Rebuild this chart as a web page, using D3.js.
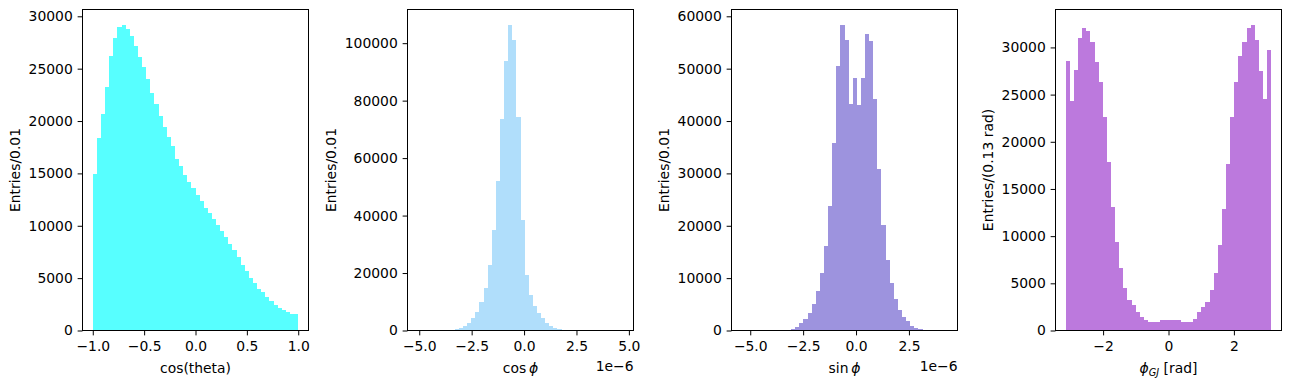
<!DOCTYPE html>
<html>
<head>
<meta charset="utf-8">
<script src="https://cdn.jsdelivr.net/npm/d3@7"></script>
<style>
  html, body { margin: 0; padding: 0; background: #fff; }
  svg { display: block; }
  text { font-family: "DejaVu Sans", sans-serif; fill: #000; }
</style>
</head>
<body>
<svg id="chart" width="1289" height="389"></svg>
<script>
// ---------------- DATA ----------------
// Panel 1: cos(theta), 50 bins over [-1, 1]
const cosThetaRange = [-1, 1];
const cosThetaCounts = [
  14950, 18380, 20700, 23280, 26200, 27950, 29000, 29190, 28810, 28140,
  27190, 26140, 25190, 24040, 22710, 21660, 20510, 19460, 18510, 17650,
  16410, 15710, 14880, 14210, 13640, 12970, 12400, 11730, 11260, 10680,
  10110, 9540, 8970, 8300, 7730, 7060, 6300, 5720, 5060, 4580,
  4010, 3630, 3240, 2860, 2480, 2190, 1910, 1720, 1530, 1530
];
const cosThetaYTicks = [0, 5000, 10000, 15000, 20000, 25000, 30000];
const cosThetaXTicks = [-1.0, -0.5, 0.0, 0.5, 1.0];

// Panel 2: cos phi (units of 1e-6), 50 bins
const cosPhiRange = [-5.07, 4.73];
const cosPhiCounts = [
  3, 0, 0, 1, 2, 6, 20, 80, 230, 580,
  1040, 1740, 2780, 4520, 6600, 10080, 14950, 22950, 35120, 52150,
  73600, 93880, 106400, 101180, 74400, 38600, 19470, 12520, 8690, 6260,
  4520, 2780, 1740, 1040, 460, 180, 70, 25, 10, 4,
  2, 1, 0, 0, 0, 0, 0, 0, 0, 1
];
const cosPhiYTicks = [0, 20000, 40000, 60000, 80000, 100000];
const cosPhiXTicks = [-5.0, -2.5, 0.0, 2.5, 5.0];

// Panel 3: sin phi (units of 1e-6), 50 bins
const sinPhiRange = [-5.40, 4.31];
const sinPhiCounts = [
  1, 0, 0, 0, 1, 3, 6, 12, 25, 50,
  95, 190, 380, 760, 1340, 2290, 3430, 5150, 7630, 10940,
  16220, 23850, 35870, 50560, 58380, 55520, 43310, 48270, 43060, 48270,
  56670, 55330, 44270, 30910, 20220, 13550, 9160, 6110, 4010, 2670,
  1720, 950, 570, 380, 190, 90, 40, 15, 5, 2
];
const sinPhiYTicks = [0, 10000, 20000, 30000, 40000, 50000, 60000];
const sinPhiXTicks = [-5.0, -2.5, 0.0, 2.5];

// Panel 4: phi_GJ [rad], 50 bins over [-pi, pi]
const phiGJRange = [-Math.PI, Math.PI];
const phiGJCounts = [
  28580, 24350, 27630, 31020, 32080, 31730, 30600, 28480, 26360, 22660,
  17890, 13130, 9420, 6670, 4550, 3280, 2650, 2010, 1380, 1060,
  850, 950, 950, 1160, 1160, 1160, 1160, 1060, 850, 850,
  950, 1270, 1910, 2540, 3070, 4340, 6140, 9100, 12920, 17680,
  22660, 26360, 29110, 30600, 32080, 32400, 30810, 27530, 24560, 29750
];
const phiGJYTicks = [0, 5000, 10000, 15000, 20000, 25000, 30000];
const phiGJXTicks = [-2, 0, 2];

// ---------------- LAYOUT ----------------
const svg = d3.select("#chart");
const FS = 13.9;
const axLefts = [82.5, 407.5, 731.5, 1055.5];
const axTop = 9.5, axW = 226, axH = 321;
const tickLen = 4.86, tickPad = 4.86;
const digitW = 0.6362 * FS;

const panels = [
  { range: cosThetaRange, counts: cosThetaCounts, yTicks: cosThetaYTicks, xTicks: cosThetaXTicks,
    xFmt: d3.format(".1f"), color: "#57ffff", ylabel: "Entries/0.01", xlabel: [{t: "cos(theta)"}], offset: null, yDigits: 5 },
  { range: cosPhiRange, counts: cosPhiCounts, yTicks: cosPhiYTicks, xTicks: cosPhiXTicks,
    xFmt: d3.format(".1f"), color: "#b0defb", ylabel: "Entries/0.01",
    xlabel: [{t: "cos\u2009"}, {t: "\u03d5", it: true}], offset: "1e\u22126", yDigits: 6 },
  { range: sinPhiRange, counts: sinPhiCounts, yTicks: sinPhiYTicks, xTicks: sinPhiXTicks,
    xFmt: d3.format(".1f"), color: "#9d93de", ylabel: "Entries/0.01",
    xlabel: [{t: "sin\u2009"}, {t: "\u03d5", it: true}], offset: "1e\u22126", yDigits: 5 },
  { range: phiGJRange, counts: phiGJCounts, yTicks: phiGJYTicks, xTicks: phiGJXTicks,
    xFmt: d3.format("d"), color: "#bc79dd", ylabel: "Entries/(0.13 rad)",
    xlabel: [{t: "\u03d5", it: true}, {t: "GJ", it: true, sub: true}, {t: " [rad]", unsub: true}], offset: null, yDigits: 5 }
];

panels.forEach((p, i) => {
  const left = axLefts[i];
  const [lo, hi] = p.range;
  const R = hi - lo;
  const n = p.counts.length;
  const x = d3.scaleLinear().domain([lo - 0.05 * R, hi + 0.05 * R]).range([left, left + axW]);
  const y = d3.scaleLinear().domain([0, d3.max(p.counts) * 1.05]).range([axTop + axH, axTop]);
  const bw = R / n;

  const g = svg.append("g");

  // bars
  g.append("g").selectAll("rect").data(p.counts).join("rect")
    .attr("x", (d, k) => x(lo + k * bw))
    .attr("width", (d, k) => x(lo + (k + 1) * bw) - x(lo + k * bw))
    .attr("y", d => y(d))
    .attr("height", d => y(0) - y(d))
    .attr("fill", p.color)
    .attr("shape-rendering", "crispEdges");

  // x axis
  const xa = g.append("g").attr("transform", `translate(0,${axTop + axH})`)
    .call(d3.axisBottom(x).tickValues(p.xTicks).tickFormat(p.xFmt).tickSize(tickLen).tickSizeOuter(0));
  xa.select(".domain").remove();
  xa.selectAll("line").attr("stroke", "#000").attr("stroke-width", 1);
  xa.selectAll("text").attr("font-size", FS).attr("font-family", "DejaVu Sans")
    .attr("y", 20.6).attr("dy", null).attr("fill", "#000");

  // y axis
  const ya = g.append("g").attr("transform", `translate(${left},0)`)
    .call(d3.axisLeft(y).tickValues(p.yTicks).tickFormat(d3.format("d")).tickSize(tickLen).tickPadding(tickPad).tickSizeOuter(0));
  ya.select(".domain").remove();
  ya.selectAll("line").attr("stroke", "#000").attr("stroke-width", 1);
  ya.selectAll("text").attr("font-size", FS).attr("font-family", "DejaVu Sans").attr("fill", "#000");

  // spines
  g.append("rect").attr("x", left).attr("y", axTop).attr("width", axW).attr("height", axH)
    .attr("fill", "none").attr("stroke", "#000").attr("stroke-width", 1);

  // x label
  const xl = g.append("text").attr("x", left + axW / 2).attr("y", axTop + axH + 42)
    .attr("text-anchor", "middle").attr("font-size", FS);
  p.xlabel.forEach(part => {
    const ts = xl.append("tspan").text(part.t);
    if (part.it) ts.attr("font-style", "italic");
    if (part.sub) ts.attr("font-size", FS * 0.7).attr("dy", 3);
    if (part.unsub) ts.attr("dy", -3);
  });

  // offset text
  if (p.offset) {
    g.append("text").attr("x", left + axW).attr("y", 370.5)
      .attr("text-anchor", "end").attr("font-size", FS).text(p.offset);
  }

  // y label
  const ylx = left - tickLen - tickPad - p.yDigits * digitW - 5.56 - 3.3;
  g.append("text")
    .attr("transform", `translate(${ylx},${axTop + axH / 2}) rotate(-90)`)
    .attr("text-anchor", "middle").attr("font-size", FS).text(p.ylabel);
});
</script>
</body>
</html>
